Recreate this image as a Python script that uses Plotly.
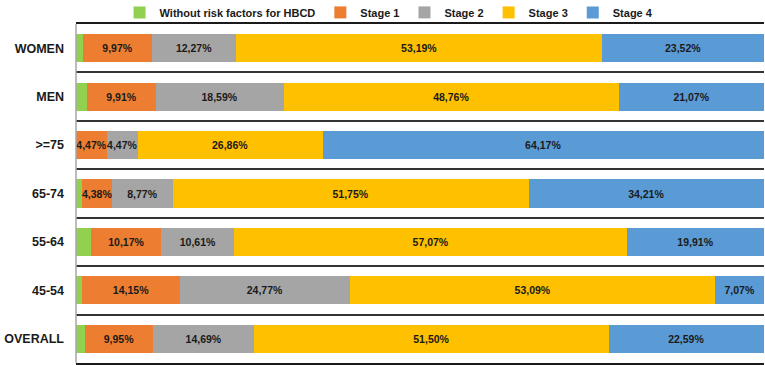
import plotly.graph_objects as go

categories = ["WOMEN", "MEN", ">=75", "65-74", "55-64", "45-54", "OVERALL"]
no_risk = [1.05, 1.67, 0.03, 0.89, 2.24, 0.92, 1.27]
stage1 = [9.97, 9.91, 4.47, 4.38, 10.17, 14.15, 9.95]
stage2 = [12.27, 18.59, 4.47, 8.77, 10.61, 24.77, 14.69]
stage3 = [53.19, 48.76, 26.86, 51.75, 57.07, 53.09, 51.50]
stage4 = [23.52, 21.07, 64.17, 34.21, 19.91, 7.07, 22.59]

series = [
    ("Without risk factors for HBCD", no_risk, "#92D050", False),
    ("Stage 1", stage1, "#ED7D31", True),
    ("Stage 2", stage2, "#A5A5A5", True),
    ("Stage 3", stage3, "#FFC000", True),
    ("Stage 4", stage4, "#5B9BD5", True),
]

fig = go.Figure()
for name, vals, color, show_text in series:
    fig.add_trace(go.Bar(
        y=categories, x=vals, name=name, orientation="h",
        marker=dict(color=color, line=dict(width=0)),
        texttemplate="%{x:.2f}%" if show_text else None,
        textposition="inside" if show_text else "none",
        insidetextanchor="middle",
        textfont=dict(family="Liberation Sans, Arial", size=10.5, color="#1a1a1a", weight="bold"),
        constraintext="none",
        hoverinfo="skip",
    ))

fig.update_layout(
    barmode="stack",
    bargap=0.42,
    width=765, height=365,
    margin=dict(l=76, r=1, t=24, b=2, autoexpand=False),
    separators=",.",
    plot_bgcolor="white", paper_bgcolor="white",
    uniformtext=dict(minsize=10.5, mode="show"),
    legend=dict(orientation="h", x=0.455, xanchor="center", y=1.077, yanchor="top",
                borderwidth=0,
                font=dict(family="Liberation Sans, Arial", size=11, color="#1a1a1a", weight="bold"),
                traceorder="normal", itemwidth=30, tracegroupgap=0,
                bgcolor="rgba(0,0,0,0)"),
    font=dict(family="Liberation Sans, Arial"),
)
fig.update_xaxes(range=[0, 100], showticklabels=False, showgrid=False, zeroline=False,
                 showline=True, linecolor="#1a1a1a", linewidth=2, mirror=True, ticks="")
fig.update_yaxes(categoryorder="array", categoryarray=categories, autorange="reversed",
                 tickson="boundaries", showgrid=True, gridcolor="#333333", gridwidth=2,
                 ticks="", showline=False, automargin=False,
                 tickfont=dict(family="Liberation Sans, Arial", size=12.5, color="#1a1a1a", weight="bold"),
                 ticklabelstandoff=11)
fig.add_shape(type="line", xref="paper", yref="paper", x0=0, x1=0, y0=0, y1=1,
              line=dict(color="#A6A6A6", width=1.5))

fig.write_html("out.html", config={"displayModeBar": False},
               post_script="document.body.style.margin='0';")
